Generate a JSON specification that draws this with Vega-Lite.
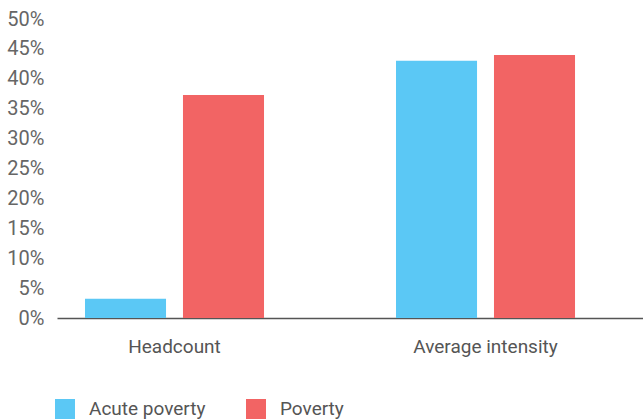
{
  "$schema": "https://vega.github.io/schema/vega-lite/v6.json",
  "autosize": "none",
  "width": 586,
  "height": 299,
  "padding": {"left": 57, "top": 19, "right": 0, "bottom": 101},
  "background": "white",
  "config": {
    "view": {"stroke": null},
    "font": "Roboto",
    "axis": {"labelFont": "Roboto", "labelColor": "#666666", "grid": false, "ticks": false},
    "legend": {"labelFont": "Roboto", "labelColor": "#555555"}
  },
  "data": {
    "values": [
      {"measure": "Headcount", "series": "Acute poverty", "value": 3.2},
      {"measure": "Headcount", "series": "Poverty", "value": 37.3},
      {"measure": "Average intensity", "series": "Acute poverty", "value": 43.0},
      {"measure": "Average intensity", "series": "Poverty", "value": 44.0}
    ]
  },
  "mark": {"type": "bar"},
  "encoding": {
    "x": {
      "field": "measure",
      "type": "nominal",
      "sort": ["Headcount", "Average intensity"],
      "scale": {"paddingInner": 0.4244, "paddingOuter": 0.1543, "align": 0.2917},
      "axis": {"title": null, "labelAngle": 0, "labelFontSize": 19, "labelPadding": 19, "domainColor": "#555555", "domainWidth": 1.5, "labelColor": "#555555"}
    },
    "xOffset": {
      "field": "series",
      "type": "nominal",
      "sort": ["Acute poverty", "Poverty"],
      "scale": {"paddingInner": 0.173, "paddingOuter": 0}
    },
    "y": {
      "field": "value",
      "type": "quantitative",
      "scale": {"domain": [0, 50]},
      "axis": {"title": null, "values": [0,5,10,15,20,25,30,35,40,45,50], "labelExpr": "datum.value + '%'", "domain": false, "labelFontSize": 20, "labelPadding": 13}
    },
    "color": {
      "field": "series",
      "type": "nominal",
      "sort": ["Acute poverty", "Poverty"],
      "scale": {"range": ["#5BC8F5", "#F26464"]},
      "legend": {
        "title": null,
        "orient": "none",
        "direction": "horizontal",
        "legendX": -2,
        "legendY": 380,
        "padding": 0,
        "symbolType": "square",
        "symbolSize": 400,
        "symbolStrokeWidth": 0,
        "symbolOpacity": 1,
        "labelFontSize": 19,
        "labelOffset": 14,
        "columnPadding": 40
      }
    }
  }
}
